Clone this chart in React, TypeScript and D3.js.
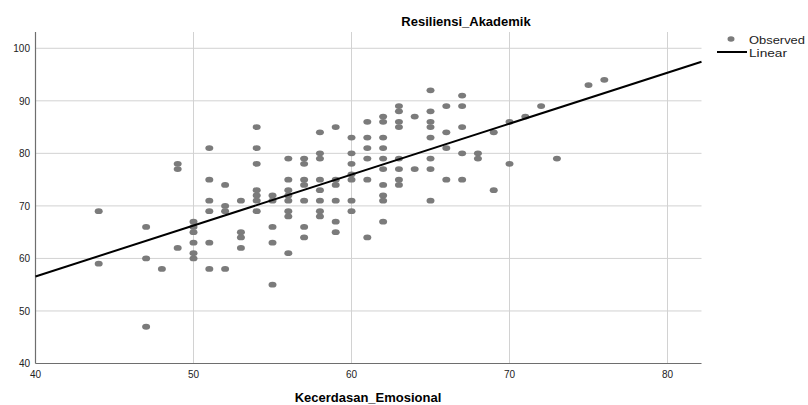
import React from "react";
import * as d3 from "d3";

// Kecerdasan_Emosional values, one entry per column of dots
const xValues = [44, 47, 48, 49, 50, 51, 52, 53, 54, 55, 56, 57, 58, 59, 60, 61, 62, 63, 64, 65, 66, 67, 68, 69, 70, 71, 72, 73, 75, 76];
// Resiliensi_Akademik values observed at each x
const yValues = [
  [69, 59],
  [66, 60, 47],
  [58],
  [78, 77, 62],
  [67, 66, 65, 63, 61, 60],
  [81, 75, 71, 69, 63, 58],
  [74, 70, 69, 58],
  [71, 65, 64, 62],
  [85, 81, 78, 73, 72, 71, 69],
  [72, 71, 66, 63, 55],
  [79, 75, 73, 72, 71, 69, 68, 61],
  [79, 78, 75, 74, 71, 66, 64],
  [84, 80, 79, 75, 73, 71, 69, 68],
  [85, 75, 74, 71, 67, 65],
  [83, 80, 78, 76, 75, 71, 69],
  [86, 83, 81, 79, 75, 64],
  [87, 86, 83, 81, 79, 77, 74, 72, 71, 67],
  [89, 88, 86, 85, 79, 77, 75, 74],
  [87, 77],
  [92, 88, 86, 85, 83, 79, 77, 71],
  [89, 84, 81, 75],
  [91, 89, 85, 80, 75],
  [80, 79],
  [84, 73],
  [86, 78],
  [87],
  [89],
  [79],
  [93],
  [94],
];
const xTicks = [40, 50, 60, 70, 80];
const yTicks = [40, 50, 60, 70, 80, 90, 100];
const title = "Resiliensi_Akademik";
const xTitle = "Kecerdasan_Emosional";
const legendLabels = ["Observed", "Linear"];

const W = 808;
const H = 405;
const margin = { left: 35.5, right: 106.5, top: 32, bottom: 41.5 };

export default function App() {
  const points = xValues.flatMap((x, i) => yValues[i].map((y) => ({ x, y })));

  const xScale = d3.scaleLinear().domain([40, 82.15]).range([margin.left, W - margin.right]);
  const yScale = d3.scaleLinear().domain([40, 103.1]).range([H - margin.bottom, margin.top]);

  // least squares fit, as SPSS draws it
  const mx = d3.mean(points, (d) => d.x) as number;
  const my = d3.mean(points, (d) => d.y) as number;
  const sxy = d3.sum(points, (d) => (d.x - mx) * (d.y - my));
  const sxx = d3.sum(points, (d) => (d.x - mx) * (d.x - mx));
  const slope = sxy / sxx;
  const intercept = my - slope * mx;
  const [x0, x1] = xScale.domain();
  const fitLine = d3
    .line<number>()
    .x((d) => xScale(d))
    .y((d) => yScale(intercept + slope * d));

  const [px0, px1] = xScale.range();
  const [py0, py1] = yScale.range();
  const font = "'Liberation Sans', Arial, sans-serif";

  return (
    <svg width={W} height={H} style={{ position: "absolute", left: 0, top: 0 }}>
      <rect width={W} height={H} fill="#fff" />
      <text x={466} y={26} textAnchor="middle" fontFamily={font} fontWeight="bold" fontSize={13}>
        {title}
      </text>

      {/* grid */}
      {yTicks.slice(1).map((t) => (
        <line key={"gy" + t} x1={px0} x2={px1} y1={yScale(t)} y2={yScale(t)} stroke="#d2d2d2" strokeWidth={1} />
      ))}
      {xTicks.slice(1).map((t) => (
        <line key={"gx" + t} x1={xScale(t)} x2={xScale(t)} y1={py1} y2={py0} stroke="#d2d2d2" strokeWidth={1} />
      ))}

      {/* axes */}
      <line x1={px0} x2={px0} y1={py1} y2={py0} stroke="#6e6e6e" strokeWidth={1.2} />
      <line x1={px0} x2={px1} y1={py0} y2={py0} stroke="#6e6e6e" strokeWidth={1.2} />

      {yTicks.map((t) => (
        <text
          key={"ty" + t}
          x={30}
          y={yScale(t) + 3.8}
          textAnchor="end"
          fontFamily={font}
          fontSize={10}
          fill="#222"
        >
          {t}
        </text>
      ))}
      {xTicks.map((t) => (
        <text key={"tx" + t} x={xScale(t)} y={377.5} textAnchor="middle" fontFamily={font} fontSize={10} fill="#222">
          {t}
        </text>
      ))}
      <text x={368} y={402} textAnchor="middle" fontFamily={font} fontWeight="bold" fontSize={13}>
        {xTitle}
      </text>

      {/* points */}
      {points.map((d, i) => (
        <ellipse key={i} cx={xScale(d.x)} cy={yScale(d.y)} rx={4} ry={2.9} fill="#7b7b7b" />
      ))}

      <path d={fitLine([x0, x1]) || ""} fill="none" stroke="#000" strokeWidth={2} />

      {/* legend */}
      <ellipse cx={731} cy={39} rx={3.5} ry={2.8} fill="#7b7b7b" />
      <text x={749} y={44} fontFamily={font} fontSize={11} fill="#222" textLength={56} lengthAdjust="spacingAndGlyphs">
        {legendLabels[0]}
      </text>
      <line x1={717} x2={747} y1={52} y2={52} stroke="#000" strokeWidth={2} />
      <text x={749} y={56.5} fontFamily={font} fontSize={11} fill="#222" textLength={38} lengthAdjust="spacingAndGlyphs">
        {legendLabels[1]}
      </text>
    </svg>
  );
}
